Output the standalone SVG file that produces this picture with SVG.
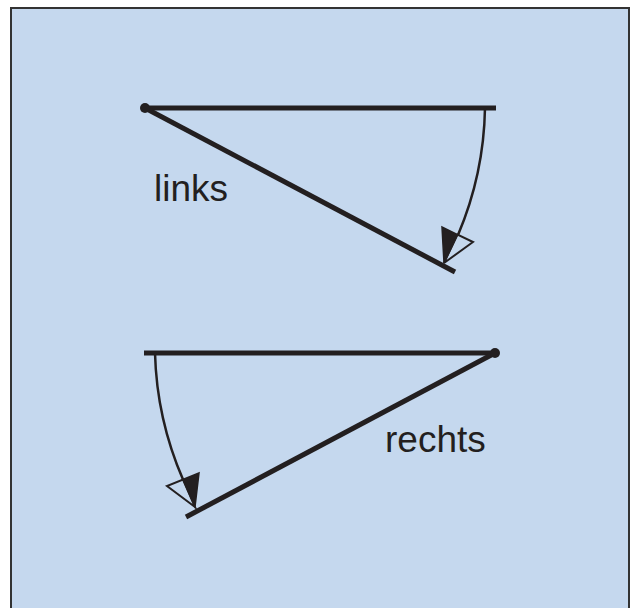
<svg xmlns="http://www.w3.org/2000/svg" width="631" height="608" viewBox="0 0 631 608">
<style>
.thick{stroke:#231f20;stroke-width:5;fill:none}
.thin{stroke:#231f20;stroke-width:2.5;fill:none}
.lbl{font-family:"Liberation Sans",Arial,sans-serif;font-size:37px;fill:#231f20}
</style>
<rect x="11" y="8" width="618" height="610" fill="#c5d8ee" stroke="#333" stroke-width="2"/>
<g id="links">
<line class="thick" x1="145" y1="108" x2="496" y2="108"/>
<line class="thick" x1="145" y1="108" x2="455" y2="272"/>
<circle cx="145" cy="108" r="5" fill="#231f20"/>
<path class="thin" d="M485 108 A340 340 0 0 1 458 235"/>
<polygon points="444,263 442,227 457.5,234.5" fill="#231f20" stroke="#231f20" stroke-width="1.5" stroke-linejoin="miter"/>
<polygon points="444,263 473,242 457.5,234.5" fill="none" stroke="#231f20" stroke-width="2"/>
<text class="lbl" x="154" y="201">links</text>
</g>
<g id="rechts">
<line class="thick" x1="144" y1="353" x2="495" y2="353"/>
<line class="thick" x1="495" y1="353" x2="186" y2="517"/>
<circle cx="495" cy="353" r="5" fill="#231f20"/>
<path class="thin" d="M155 353 A340 340 0 0 0 183 479.5"/>
<polygon points="195,507 199,473 183,479.5" fill="#231f20" stroke="#231f20" stroke-width="1.5"/>
<polygon points="195,507 167,486 183,479.5" fill="none" stroke="#231f20" stroke-width="2"/>
<text class="lbl" x="385" y="452">rechts</text>
</g>
</svg>
